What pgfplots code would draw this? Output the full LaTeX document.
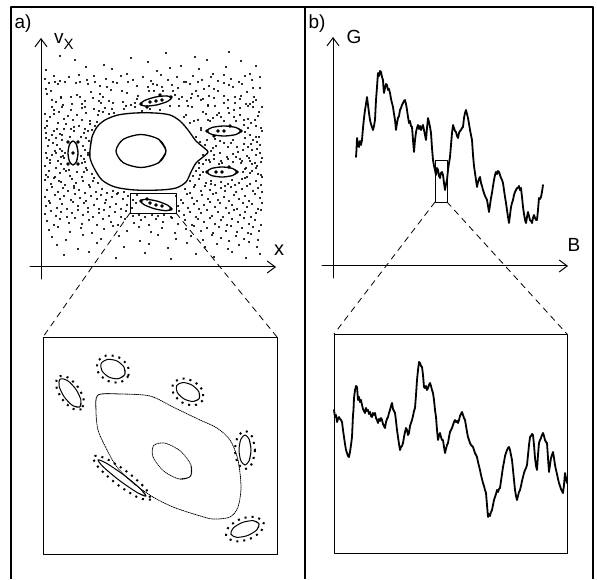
\documentclass[border=0pt]{standalone}
\usepackage{pgfplots}
\pgfplotsset{compat=1.18}
\usepackage{fontspec}
\setmainfont{Liberation Sans}
\usetikzlibrary{arrows.meta}
\begin{document}
\begin{tikzpicture}
\begin{axis}[
  scale only axis, width=597pt, height=579pt,
  xmin=0, xmax=597, ymin=0, ymax=579, y dir=reverse,
  hide axis, clip=false,
  every axis plot/.append style={line join=round, line cap=round},
]
\addplot[draw=none] coordinates {(0,0) (597,579)};
% frame
\addplot[black, line width=1.6pt, line cap=butt] coordinates {(11,579) (11,7) (593,7) (593,579)};
\addplot[black, line width=1.4pt, line cap=butt] coordinates {(305,7) (305,579)};
% ---------- panel a: axes
\addplot[black, line width=1pt, -{Straight Barb[length=8pt,width=12pt]}] coordinates {(41,279) (41,38)};
\addplot[black, line width=1pt, -{Straight Barb[length=8pt,width=12pt]}] coordinates {(30,267) (276,267)};
% scattered (chaotic) points
\addplot[only marks, mark=*, mark size=0.75pt, black] coordinates {
(60,56) (131,58) (166,53) (195,57) (229,52)
(75,60) (104,65) (148,62) (181,66) (207,60) (241,61) (256,66)
(46,70) (86,67) (112,69) (127,74) (157,71) (170,68) (199,69) (213,74) (226,67) (250,74)
(45,79) (54,76) (60,81) (69,77) (79,75) (87,80) (94,76) (106,79) (113,82) (121,76) (133,80) (143,77) (151,81) (161,75) (168,80) (177,77) (184,82) (193,76) (202,80) (211,77) (218,81) (224,75) (231,79) (239,82) (245,76) (252,80) (260,77)
(46,89) (49,83) (55,82) (58,84) (65,82) (76,83) (80,82) (88,84) (95,82) (100,86) (107,87) (117,83) (128,82) (137,86) (148,87) (153,84) (157,85) (162,87) (172,85) (178,88) (186,82) (190,84) (198,82) (204,89) (209,86) (214,89) (224,83) (229,85) (233,87) (242,84) (253,88) (260,88)
(47,94) (51,91) (61,97) (71,97) (77,95) (80,97) (91,92) (100,94) (103,97) (111,90) (122,91) (127,93) (138,96) (149,91) (154,91) (163,91) (173,91) (175,95) (182,97) (192,94) (196,91) (198,96) (209,96) (218,91) (224,96) (235,97) (241,96) (247,92) (254,97)
(52,100) (56,102) (61,98) (63,105) (72,104) (82,104) (85,101) (93,98) (99,101) (101,103) (109,101) (113,103) (123,102) (131,105) (135,103) (137,99) (179,99) (187,101) (191,98) (201,100) (203,99) (208,105) (214,98) (224,103) (228,100) (235,103) (240,99) (246,104) (250,104) (253,102) (256,100)
(52,107) (54,110) (62,107) (71,110) (82,108) (85,107) (94,109) (99,111) (103,112) (105,108) (112,109) (114,113) (124,109) (126,106) (135,107) (142,111) (150,109) (160,110) (170,106) (179,106) (188,106) (192,107) (203,112) (208,106) (215,106) (219,113) (228,108) (234,110) (240,108) (248,106) (253,107) (259,112) (262,107)
(45,114) (47,121) (54,114) (64,119) (73,120) (77,115) (82,120) (90,121) (98,115) (109,114) (184,117) (186,115) (194,121) (198,120) (208,120) (210,121) (217,115) (224,121) (234,117) (236,121) (244,120) (255,120)
(47,126) (58,123) (64,129) (71,129) (74,127) (85,129) (90,124) (95,126) (97,122) (190,123) (201,128) (251,123) (261,128)
(46,133) (54,131) (60,134) (62,135) (70,137) (74,131) (84,133) (92,130) (196,137) (201,130) (245,132) (256,137) (259,137)
(46,138) (49,140) (56,138) (86,138) (200,142) (205,145) (215,139) (220,141) (224,143) (233,140) (244,144) (251,144) (253,140) (257,142)
(46,153) (56,153) (62,151) (65,153) (85,150) (88,153) (213,148) (220,153) (228,147) (238,152) (248,147) (257,149)
(47,158) (52,155) (58,161) (63,156) (84,159) (88,155) (209,160) (214,155) (221,161) (227,157) (233,154) (240,159) (247,156) (250,161) (256,155) (262,158)
(45,166) (50,163) (56,168) (61,164) (64,169) (82,163) (86,168) (199,163) (203,164) (241,163) (246,168) (252,164) (257,166) (261,162) (210,162) (222,163) (233,162)
(46,175) (49,171) (55,177) (60,173) (66,171) (70,176) (77,172) (82,177) (87,170) (92,174) (193,176) (196,171) (200,175) (243,172) (247,177) (252,171) (258,174) (262,177) (69,170)
(45,180) (51,184) (54,178) (61,182) (65,185) (72,179) (76,183) (83,181) (89,185) (94,178) (98,183) (190,181) (195,185) (199,179) (206,183) (211,181) (215,185) (221,182) (228,184) (232,180) (239,183) (245,178) (250,184) (256,181) (261,185)
(47,190) (52,187) (58,192) (63,188) (68,191) (74,186) (79,190) (85,193) (90,187) (96,192) (102,189) (107,193) (113,191) (118,193) (124,192) (185,189) (190,193) (194,187) (201,191) (205,186) (210,190) (216,193) (221,188) (225,191) (231,187) (236,192) (242,189) (247,186) (253,191) (258,188) (262,192)
(45,197) (49,201) (55,195) (60,199) (64,196) (71,200) (75,194) (80,198) (86,201) (91,196) (97,199) (101,195) (106,200) (112,197) (117,194) (123,199) (128,196) (133,200) (137,195) (176,196) (181,200) (187,194) (192,198) (197,201) (202,195) (208,199) (213,194) (218,200) (224,197) (229,201) (234,195) (239,199) (245,196) (249,201) (255,194) (260,198)
(46,206) (50,203) (57,208) (62,204) (67,209) (73,202) (78,206) (84,203) (88,208) (94,205) (99,209) (105,203) (110,207) (116,204) (121,209) (127,205) (132,208) (136,203) (178,206) (183,203) (188,208) (194,204) (199,209) (204,205) (210,202) (215,207) (220,203) (226,208) (232,205) (237,209) (243,203) (247,207) (252,204) (258,209) (262,203)
(45,214) (51,211) (56,216) (61,212) (67,217) (72,213) (78,210) (83,215) (88,212) (93,217) (99,213) (104,210) (109,216) (115,212) (121,217) (126,211) (133,216) (139,215) (145,217) (152,215) (158,216) (164,215) (171,217) (179,211) (184,215) (190,212) (196,217) (201,213) (207,210) (212,216) (218,212) (223,217) (229,213) (234,210) (240,215) (245,212) (251,217) (256,213) (261,210)
(47,221) (54,225) (60,219) (69,223) (75,218) (82,224) (89,220) (97,225) (103,219) (111,222) (118,225) (125,219) (134,223) (141,220) (149,225) (156,219) (163,222) (172,218) (178,224) (185,220) (192,225) (198,219) (204,222) (210,218) (215,224) (221,220) (227,225) (232,219) (238,222) (244,218) (249,224) (255,220) (261,225)
(49,230) (58,227) (70,232) (81,228) (92,233) (104,229) (113,226) (127,231) (139,227) (151,232) (162,228) (175,233) (186,229) (194,226) (201,231) (207,228) (213,233) (219,227) (226,231) (231,226) (237,232) (242,228) (248,233) (253,227) (259,231)
(52,237) (66,240) (83,235) (101,239) (119,236) (140,241) (158,235) (176,239) (191,236) (203,240) (212,235) (221,238) (229,241) (236,236) (244,239) (251,234) (258,240)
(57,245) (78,249) (97,243) (124,247) (149,244) (168,248) (187,243) (205,247) (217,244) (228,249) (239,245) (249,242) (257,247)
(64,255) (89,252) (116,258) (145,253) (171,259) (196,254) (214,257) (232,252) (246,258) (260,254)
(50,117) (59,112) (68,116) (86,113) (52,135) (57,129) (66,124) (79,126) (88,131) (48,146) (53,143) (60,149) (83,146) (89,141) (50,160) (55,151) (61,157) (85,162) (81,156) (48,177) (59,181) (74,188) (84,172) (93,181) (57,145) (62,140) (45,128) (81,137) (64,158)
(206,114) (213,118) (221,117) (229,113) (240,115) (248,119) (258,116) (245,138) (250,135) (262,131) (207,140) (211,151) (216,146) (231,143) (237,147) (243,150) (252,150) (260,153) (206,160) (214,159) (219,164) (228,159) (236,157) (242,161) (249,158) (255,163) (260,145) (203,155) (245,169) (250,173) (256,168) (261,175) (242,179) (211,184) (225,186) (235,185) (203,172) (199,168) (244,125) (256,126) (248,128)
};
% big regular island (outer) and inner torus
\addplot[black, line width=1.3pt, smooth] coordinates {
(90,158) (90,150) (92,137) (97,127) (105,120) (118,115) (135,113) (155,113) (170,115) (180,121) (188,130) (196,141) (203,147) (208,152) (203,157) (196,163) (191,172) (186,182) (176,188) (160,190) (135,190) (115,187) (102,180) (94,168) (90,158) (90,150) (92,137)};
\addplot[black, line width=1.3pt, smooth] coordinates {
(158.7,139.3) (166,151) (158.7,162.7) (141,167.5) (123.3,162.7) (116,151) (123.3,139.3) (141,134.5) (158.7,139.3) (166,151) (158.7,162.7)};
% small islands (panel a, top)
\begin{scope}[line width=1.3pt]
\addplot[black, smooth] coordinates {(166.5,95.9) (171.6,97.7) (167.6,101.4) (156.8,104.9) (145.5,106.1) (140.4,104.3) (144.4,100.6) (155.2,97.1) (166.5,95.9) (171.6,97.7) (167.6,101.4)};
\addplot[black, smooth] coordinates {(236,127.5) (241,131) (236,134.5) (224,136) (212,134.5) (207,131) (212,127.5) (224,126) (236,127.5) (241,131) (236,134.5)};
\addplot[black, smooth] coordinates {(232.6,168.5) (237,172) (232.6,175.5) (222,177) (211.4,175.5) (207,172) (211.4,168.5) (222,167) (232.6,168.5) (237,172) (232.6,175.5)};
\addplot[black, smooth] coordinates {(167.7,205.2) (171.5,209.1) (166.2,210.7) (155,208.9) (144.3,204.8) (140.5,200.9) (145.8,199.3) (157,201.1) (167.7,205.2) (171.5,209.1) (166.2,210.7)};
\addplot[black, smooth] coordinates {(76.5,144.5) (78,153) (76.5,161.5) (73,165) (69.5,161.5) (68,153) (69.5,144.5) (73,141) (76.5,144.5) (78,153) (76.5,161.5)};
\end{scope}
\addplot[only marks, mark=*, mark size=1.6pt, black] coordinates {
(141,104) (171,97) (156,101) (150,102) (162,100) (160,95) (147,107)
(207,131) (241,131) (224,131) (218,131) (230,126) (214,136)
(207,172) (237,172) (222,172) (216,172) (229,167)
(141,201) (171,209) (156,205) (150,203) (162,206) (147,199)
(73,153) (68,142) (78,142) (68,164) (78,164)};
% zoom rectangle and dashed lines
\addplot[black, line width=0.9pt, line cap=butt] coordinates {(130,193) (176,193) (176,213) (130,213) (130,193)};
\addplot[black, line width=0.8pt, dash pattern=on 6pt off 5pt] coordinates {(130,213) (43,337)};
\addplot[black, line width=0.8pt, dash pattern=on 6pt off 5pt] coordinates {(176,213) (277,337)};
% ---------- lower-left magnified box
\addplot[black, line width=1pt, line cap=butt] coordinates {(43,337) (277,337) (277,554) (43,554) (43,337)};
\addplot[black, line width=0.8pt, densely dotted, smooth] coordinates {
(96,410) (98,395) (120,394) (150,396) (173,407) (200,420) (217,428) (230,440) (238,460) (241,487) (238,507) (230,517) (213,519) (197,515) (173,507) (153,497) (133,483) (117,467) (107,450) (98,430) (96,410) (98,395) (120,394)};
\addplot[black, line width=0.8pt, densely dotted, smooth] coordinates {
(190.9,464.9) (190.4,476.4) (179.1,479.0) (163.6,471.0) (153.1,457.1) (153.6,445.6) (164.9,443.1) (180.4,451.0) (190.9,464.9) (190.4,476.4) (179.1,479.0)};
% islands: solid loops
\begin{scope}[line width=1pt]
\addplot[black, smooth] coordinates {(80.95,400.0) (79.8,406.9) (72.85,405.7) (64.3,397.0) (59.05,386.0) (60.2,379.1) (67.15,380.3) (75.7,389.0) (80.95,400.0) (79.8,406.9) (72.85,405.7)};
\addplot[black, smooth] coordinates {(124.0,367.1) (124.8,374.5) (118.6,378.7) (109.2,377.2) (102.0,370.9) (101.2,363.5) (107.4,359.4) (116.8,360.9) (124.0,367.1) (124.8,374.5) (118.6,378.7)};
\addplot[black, smooth] coordinates {(198.8,391.7) (199.3,398.5) (193.1,401.5) (184,398.9) (177.2,392.3) (176.7,385.5) (182.9,382.5) (192,385.1) (198.8,391.7) (199.3,398.5) (193.1,401.5)};
\addplot[black, smooth] coordinates {(249.2,439.4) (251,450) (249.2,460.6) (245,465) (240.8,460.6) (239,450) (240.8,439.4) (245,435) (249.2,439.4) (251,450) (249.2,460.6)};
\addplot[black, smooth] coordinates {(253.3,520.7) (259.1,523.9) (256.7,530.0) (247.4,535.6) (236.7,537.3) (230.9,534.1) (233.3,528.0) (242.6,522.4) (253.3,520.7) (259.1,523.9) (256.7,530.0)};
\addplot[black, smooth] coordinates {(140.4,488.8) (146.0,496.1) (137.5,492.7) (119.9,480.8) (103.6,467.2) (98.0,459.9) (106.5,463.3) (124.1,475.2) (140.4,488.8) (146.0,496.1) (137.5,492.7)};
\end{scope}
% islands: dashed outer rings
\begin{scope}[line width=2pt, dash pattern=on 2pt off 5pt, line cap=butt]
\addplot[black, smooth] coordinates {(81.5,409.4) (72.3,408.6) (61.8,398.7) (56.1,385.5) (58.5,376.6) (67.7,377.4) (78.2,387.3) (83.9,400.5) (81.5,409.4)};
\addplot[black, smooth] coordinates {(128.4,376.2) (120.0,382.4) (107.5,380.8) (98.2,372.3) (97.6,361.8) (106.0,355.6) (118.5,357.2) (127.8,365.8) (128.4,376.2)};
\addplot[black, smooth] coordinates {(202.7,400.5) (194.2,405.4) (182,402.4) (173.4,393.3) (173.3,383.5) (181.8,378.6) (194,381.6) (202.7,390.7) (202.7,400.5)};
\addplot[black, smooth] coordinates {(255,450) (252.1,463.4) (245,469) (237.9,463.4) (235,450) (237.9,436.6) (245,431) (252.1,436.6) (255,450)};
\addplot[black, smooth] coordinates {(263.8,522.2) (260.9,531.5) (248.8,539.3) (234.4,541.2) (226.2,535.8) (229.1,526.5) (241.2,518.7) (255.6,516.9) (263.8,522.2)};
\addplot[black, smooth] coordinates {(150.8,499.7) (138.9,497.9) (117.2,484.4) (98.3,467.2) (93.2,456.3) (105.1,458.2) (126.8,471.6) (145.8,488.8) (150.8,499.7)};
\end{scope}
% ---------- panel b: axes
\addplot[black, line width=1pt, -{Straight Barb[length=8pt,width=12pt]}] coordinates {(333,278) (333,37)};
\addplot[black, line width=1pt, -{Straight Barb[length=8pt,width=12pt]}] coordinates {(322,266) (568,266)};
% conductance fluctuations G(B)
\addplot[black, line width=1.8pt] coordinates {
(356,157) (356.5,150) (357,138) (358,144) (359,147) (360,141) (361,145) (362,140) (363,128) (364,118) (365,110) (366,104) (367,97) (368,105) (369,113) (370,120) (371,124) (372,127) (373,130) (374,126) (375,120) (376,100) (377,87) (377.5,80) (378,73) (379,76) (380,71) (381,72) (382,77) (383,80) (383.5,88) (384,93) (385,88) (386,84) (387,85) (388,90) (389,89) (390,93) (391,99) (392,103) (393,107) (394,114) (395,120) (396,130) (397,123) (398,118) (399,116) (400,110) (401,108) (402,105) (403,103) (404,101) (405,100) (406,104) (407,110) (408,117) (409,123) (410,121) (411,126) (412,127) (413,140) (414,152) (415,140) (416,132) (417,128) (418,125) (419,129) (420,126) (421,130) (422,127) (423,125) (424,130) (425,135) (426,140) (427,128) (428,118) (429,122) (430,127) (431,133) (432,148) (433,160) (434,166) (435,170) (436,175) (437,168) (438,170) (439,176) (440,178) (441,173) (442,172) (443,175) (444,183) (445,190) (446,184) (447,180) (448,170) (449,163) (450,157) (451,145) (452,133) (453,125) (454,128) (455,131) (456,132) (457,136) (458,138) (459,133) (460,131) (461,130) (462,128) (463,127) (464,118) (465,113) (466,110) (467,114) (468,118) (469,124) (470,130) (471,135) (472,140) (473,155) (474,166) (475,173) (476,180) (477,187) (478,182) (479,179) (480,177) (481,183) (482,186) (483,190) (484,193) (485,196) (486,198) (487,200) (488,206) (489,212) (490,205) (491,198) (492,193) (493,186) (494,180) (495,175) (496,172) (497,174) (498,171) (499,172) (500,175) (501,178) (502,180) (503,183) (504,190) (505,197) (506,203) (507,210) (508,217) (509,223) (510,215) (511,207) (512,203) (513,200) (514,195) (515,192) (516,190) (517,188) (518,188) (519,186) (520,190) (521,188) (522,197) (523,207) (524,214) (525,220) (526,223) (527,217) (528,212) (529,216) (530,220) (531,221) (532,223) (533,218) (534,215) (535,218) (536,220) (537,220) (538,210) (539,198) (540,199) (541,197) (542,192) (543,185)};
\addplot[black, line width=0.9pt, line cap=butt] coordinates {(435,160) (447,160) (447,202) (435,202) (435,160)};
\addplot[black, line width=0.8pt, dash pattern=on 6pt off 5pt] coordinates {(435,202) (334,334)};
\addplot[black, line width=0.8pt, dash pattern=on 6pt off 5pt] coordinates {(447,202) (567,334)};
% ---------- lower-right magnified box
\addplot[black, line width=1pt, line cap=butt] coordinates {(334,334) (567,334) (567,553) (334,553) (334,334)};
\addplot[black, line width=1.8pt] coordinates {
(334,410) (335,417) (336,415) (337,422) (338,419) (339,417) (340,419) (341,420) (342,422) (343,430) (344,437) (345,444) (346,450) (347,453) (348,456) (349,457) (350,452) (351,445) (352,437) (353,415) (353.5,410) (354,398) (355,390) (356,386) (357,387) (358,400) (359,397) (360,402) (361,400) (362,405) (363,409) (364,411) (365,413) (366,408) (367,411) (368,410) (369,414) (370,412) (371,416) (372,417) (373,413) (374,415) (375,413) (376,418) (377,420) (378,423) (379,419) (380,421) (381,418) (382,420) (383,424) (384,426) (385,428) (386,422) (387,419) (388,417) (389,413) (390,410) (391,406) (392,403) (393,409) (394,411) (395,413) (396,421) (397,430) (398,437) (399,444) (400,450) (401,447) (402,446) (403,443) (404,437) (405,432) (406,428) (407,430) (408,435) (409,433) (410,426) (411,423) (412,420) (413,416) (414,411) (415,408) (416,395) (417,380) (418,370) (419,362) (420,363) (421,366) (422,367) (423,375) (424,387) (425,388) (426,386) (427,390) (428,388) (429,385) (430,383) (431,386) (432,390) (433,393) (434,400) (435,410) (436,417) (437,430) (438,440) (439,436) (440,433) (441,437) (442,440) (443,440) (444,447) (445,453) (446,449) (447,445) (448,443) (449,437) (450,432) (451,430) (452,428) (453,425) (454,422) (455,420) (456,422) (457,421) (458,423) (459,420) (460,416) (461,414) (462,412) (463,415) (464,418) (465,420) (466,426) (467,432) (468,437) (469,440) (470,443) (471,445) (472,446) (473,447) (474,450) (475,453) (476,455) (477,457) (478,462) (479,466) (480,470) (481,475) (482,479) (483,483) (484,486) (485,490) (486,493) (487,505) (488,517) (489,514) (490,516) (491,512) (492,510) (493,505) (494,500) (495,497) (496,494) (497,490) (498,492) (499,489) (500,488) (501,481) (502,474) (503,467) (504,462) (505,456) (506,453) (507,450) (508,448) (509,447) (510,450) (511,455) (512,460) (513,470) (514,480) (515,490) (516,496) (517,500) (518,496) (519,492) (520,490) (521,486) (522,481) (523,477) (524,473) (525,470) (526,468) (527,465) (528,455) (529,445) (530,437) (531,436) (532,434) (533,435) (534,445) (535,458) (536,466) (537,470) (538,455) (539,443) (540,440) (541,438) (542,435) (543,433) (544,436) (545,440) (546,442) (547,443) (548,458) (549,472) (550,465) (551,458) (552,455) (553,452) (554,458) (555,465) (556,470) (557,474) (558,479) (559,483) (560,486) (561,489) (562,491) (563,493) (564,485) (565,473) (566,478) (567,483)};
% ---------- labels
\node[font=\fontsize{19}{20}\selectfont, inner sep=0pt] at (axis cs:23,24) {a)};
\node[font=\fontsize{19}{20}\selectfont, inner sep=0pt, anchor=base west] at (axis cs:54,44) {v\raisebox{-0.3em}{\fontsize{15}{15}\selectfont X}};
\node[font=\fontsize{20}{20}\selectfont, inner sep=0pt] at (axis cs:279,250) {x};
\node[font=\fontsize{19}{20}\selectfont, inner sep=0pt] at (axis cs:317,24) {b)};
\node[font=\fontsize{19}{20}\selectfont, inner sep=0pt] at (axis cs:354,37) {G};
\node[font=\fontsize{19}{20}\selectfont, inner sep=0pt] at (axis cs:574,245) {B};
\end{axis}
\end{tikzpicture}
\end{document}
